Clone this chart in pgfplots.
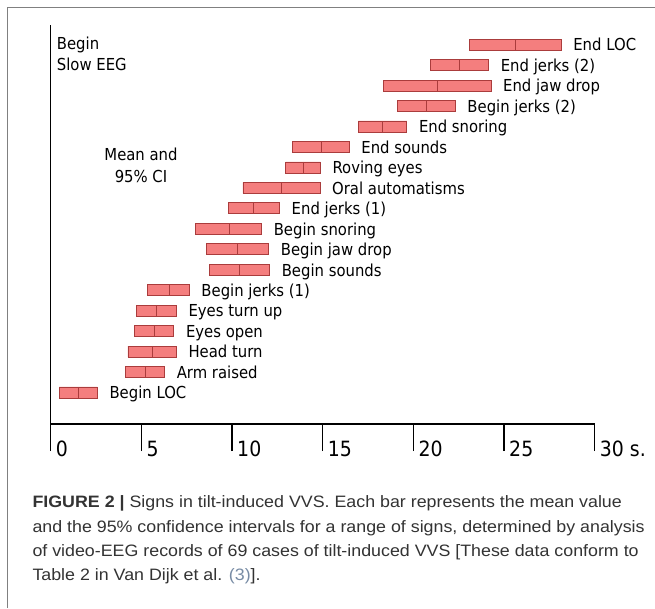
\documentclass[border=0pt]{standalone}
\usepackage{pgfplots}
\pgfplotsset{compat=1.18}
\usepackage{pgfplotstable}
\usepackage{fontspec}
\setmainfont{Liberation Sans}
\newfontfamily\chartfont[FakeStretch=0.9]{DejaVu Sans}
\newfontfamily\capfont[FakeStretch=1.08]{Liberation Sans}
\definecolor{barfill}{RGB}{244,126,126}
\definecolor{bardraw}{RGB}{170,60,60}
\definecolor{captxt}{RGB}{51,51,51}
\definecolor{caplink}{RGB}{120,140,165}

% lower CI, mean, upper CI (seconds); row 1 = bottom
\pgfplotstableread[col sep=comma]{
y,lo,mean,hi,label
18,23.10,25.65,28.15,End LOC
17,20.93,22.54,24.15,End jerks (2)
16,18.35,21.32,24.28,End jaw drop
15,19.13,20.70,22.31,Begin jerks (2)
14,16.97,18.31,19.64,End snoring
13,13.33,14.92,16.46,End sounds
12,12.96,13.92,14.87,Roving eyes
11,10.60,12.72,14.85,Oral automatisms
10,9.82,11.20,12.62,End jerks (1)
9,7.99,9.84,11.63,Begin snoring
8,8.59,10.30,12.02,Begin jaw drop
7,8.75,10.41,12.07,Begin sounds
6,5.36,6.52,7.64,Begin jerks (1)
5,4.72,5.83,6.93,Eyes turn up
4,4.63,5.71,6.79,Eyes open
3,4.26,5.62,6.93,Head turn
2,4.13,5.23,6.28,Arm raised
1,0.47,1.51,2.57,Begin LOC
}\signs

\newcommand{\lblsize}{\fontsize{16.5}{21}\selectfont}

\pgfplotsset{frame/.style={
  at={(50.7pt,184pt)}, anchor=south west,
  scale only axis, width=544pt, height=399pt,
  xmin=0, xmax=30, ymin=-0.54, ymax=18.96,
  clip=false,
}}

\begin{document}
\begin{tikzpicture}
\useasboundingbox (0,0) rectangle (655pt,608pt);
\fill[white] (0,0) rectangle (655pt,608pt);
\draw[black!50, line width=1.3pt] (7.3pt,0pt) -- (7.3pt,600.7pt) -- (655pt,600.7pt);

\begin{axis}[frame,
  axis x line=bottom, axis y line=left,
  axis line style={black, line width=1.2pt, -},
  xbar stacked, bar width=11pt,
  ytick=\empty,
  xtick={0,5,10,15,20,25,30},
  xticklabels={0,5,10,15,20,25,30 s.},
  tick align=outside, xtick align=outside, major tick length=27pt,
  tick style={black, line width=1.2pt},
  xticklabel style={anchor=base west, inner sep=0pt, xshift=5pt, yshift=-5pt,
    font=\chartfont\fontsize{21}{22}\selectfont},
  /pgf/number format/assume math mode=true,
]
\addplot[draw=none, fill=none] table[x=lo, y=y] {\signs};
\addplot[draw=bardraw, fill=barfill, line width=0.8pt]
  table[x expr=\thisrow{mean}-\thisrow{lo}, y=y] {\signs};
\addplot[draw=bardraw, fill=barfill, line width=0.8pt]
  table[x expr=\thisrow{hi}-\thisrow{mean}, y=y] {\signs};
\end{axis}

% sign names, right of each interval
\begin{axis}[frame, hide axis]
\addplot[draw=none, point meta=explicit symbolic,
  nodes near coords,
  every node near coord/.append style={anchor=base west, inner sep=0pt,
    xshift=12pt, yshift=-6.3pt, text=black, font=\chartfont\lblsize}]
  table[x=hi, y=y, meta=label] {\signs};
\end{axis}

\begin{scope}[every node/.style={inner sep=0pt, font=\chartfont\lblsize}]
\node[anchor=base west] at (56.7pt,558pt) {Begin};
\node[anchor=base west] at (56.7pt,537pt) {Slow EEG};
\node[anchor=base] at (141pt,447pt) {Mean and};
\node[anchor=base] at (141pt,425.3pt) {95\% CI};
\end{scope}

\begin{scope}[every node/.style={inner sep=0pt, anchor=base west, text=captxt,
    font=\capfont\fontsize{16.5}{19}\selectfont}]
\node at (32.3pt,100.3pt) {\textbf{FIGURE 2 |} Signs in tilt-induced VVS. Each bar represents the mean value};
\node at (32.3pt,76pt) {and the 95\% confidence intervals for a range of signs, determined by analysis};
\node at (32.3pt,51.7pt) {of video-EEG records of 69 cases of tilt-induced VVS [These data conform to};
\node at (32.3pt,27.4pt) {Table 2 in Van Dijk et al. {\color{caplink}(3)}].};
\end{scope}
\end{tikzpicture}
\end{document}
